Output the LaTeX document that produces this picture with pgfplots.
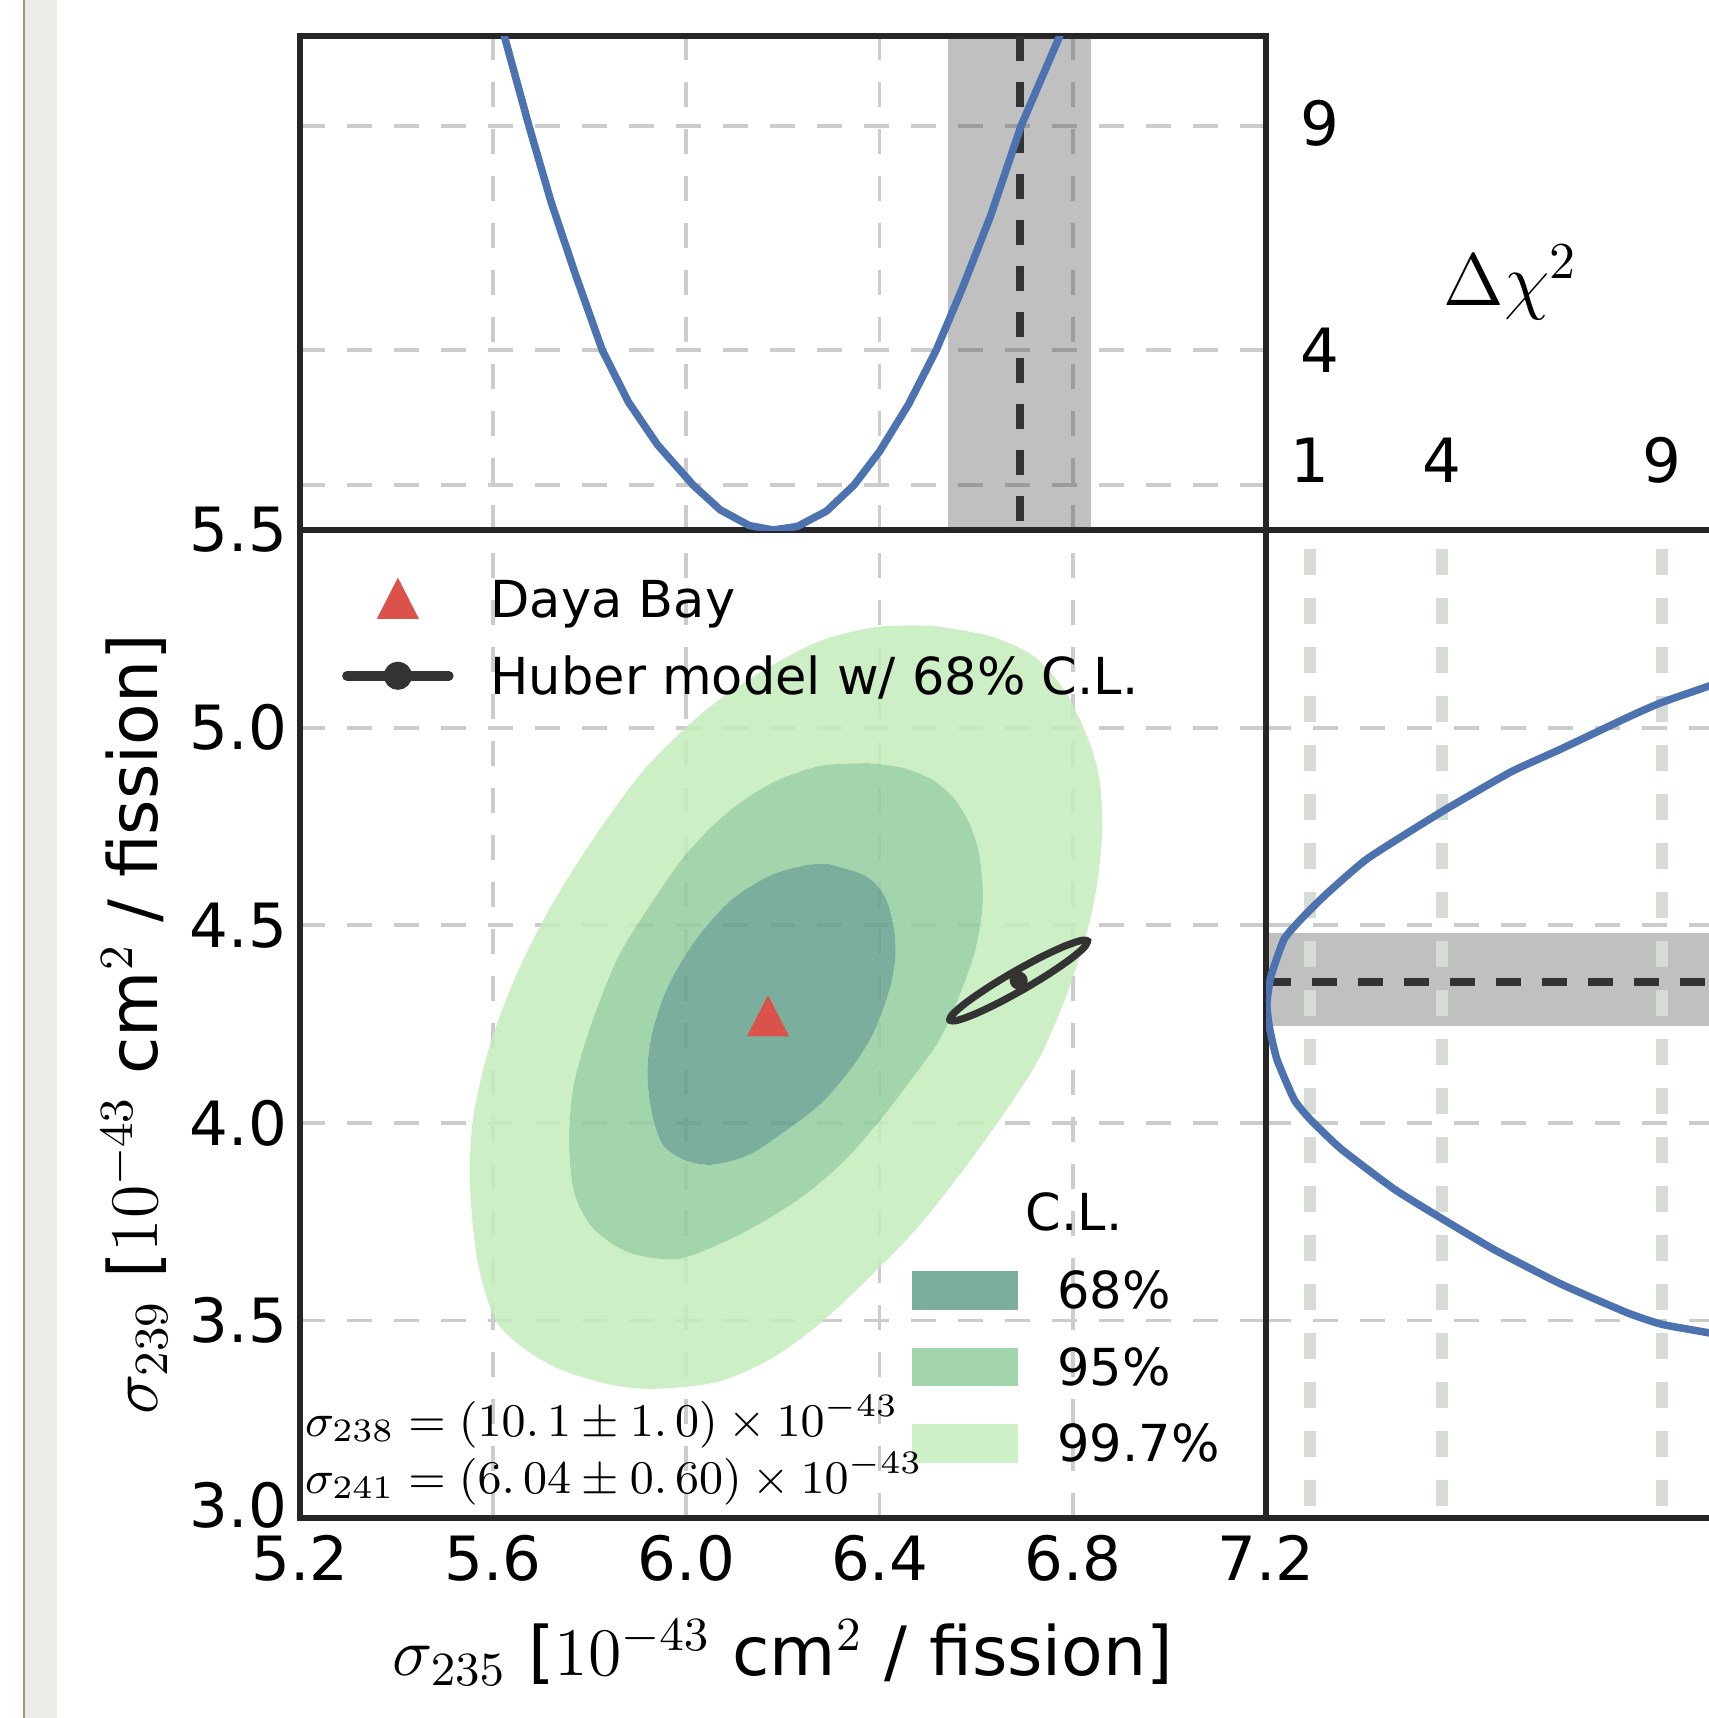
\RequirePackage{fix-cm}
\documentclass[border=0pt]{standalone}
\usepackage[no-math]{fontspec}
\setmainfont{DejaVu Sans}
\usepackage{pgfplots}
\pgfplotsset{compat=1.18}
\definecolor{cbl}{RGB}{76,114,176}
\definecolor{dk}{RGB}{51,51,51}
\definecolor{axc}{RGB}{38,38,38}
\definecolor{gr}{RGB}{204,204,204}
\definecolor{vl}{RGB}{214,220,213}
\definecolor{bandc}{RGB}{48,48,48}
\definecolor{ca}{RGB}{100,160,139}
\definecolor{cb}{RGB}{147,206,159}
\definecolor{cc}{RGB}{197,237,188}
\definecolor{la}{RGB}{123,174,156}
\definecolor{lb}{RGB}{163,213,173}
\definecolor{lc}{RGB}{206,240,198}
\definecolor{dbred}{RGB}{218,82,73}
\definecolor{stripe}{RGB}{236,235,231}
\definecolor{tanline}{RGB}{168,148,110}

\begin{document}
\begin{tikzpicture}
\useasboundingbox (0pt,0pt) rectangle (341.8pt,-343.6pt);
\clip (0pt,0pt) rectangle (341.8pt,-343.6pt);
\fill[white] (0pt,0pt) rectangle (341.8pt,-343.6pt);
\fill[stripe] (4.8pt,0pt) rectangle (11.4pt,-343.6pt);
\draw[tanline, line width=0.45pt] (4.85pt,0pt) -- (4.85pt,-343.6pt);

\pgfplotsset{
  every axis/.append style={
    scale only axis,
    axis line style={line width=1.14pt, axc},
    major tick length=0pt,
    grid style={gr, line width=0.76pt, dash pattern=on 5pt off 4.4pt},
    tick label style={font=\fontsize{12.2}{14}\selectfont},
    unbounded coords=jump,
  }
}

% ---------------- main panel ----------------
\begin{axis}[
  at={(60pt,-303.6pt)}, anchor=south west,
  width=193.2pt, height=197.6pt,
  xmin=5.2, xmax=7.2, ymin=3, ymax=5.5,
  xtick={5.2,5.6,6.0,6.4,6.8,7.2},
  xticklabels={5.2,5.6,6.0,6.4,6.8,7.2},
  ytick={3.0,3.5,4.0,4.5,5.0,5.5},
  yticklabels={\raisebox{5.2pt}{3.0},3.5,4.0,4.5,5.0,5.5},
  yticklabel style={xshift=0.9pt},
  grid=major,
  xlabel={$\sigma_{235}$ [$10^{-43}$ cm$^2$ / fission]},
  ylabel={$\sigma_{239}$ [$10^{-43}$ cm$^2$ / fission]},
  label style={font=\fontsize{13.6}{16}\selectfont},
  xlabel style={at={(axis description cs:0.5,-0.1589)}, anchor=base},
  ylabel style={at={(axis description cs:-0.148,0.5)}, anchor=base},
  legend style={at={(axis description cs:0.0426,0.8917)}, anchor=west,
    draw=none, fill=none, inner sep=0pt,
    font=\fontsize{10.2}{12}\selectfont,
    nodes={inner sep=0pt, text height=7.4pt, text depth=0pt},
    row sep=7.86pt, column sep=7.4pt},
  legend cell align=left,
  legend image code/.code={\draw[mark repeat=2,mark phase=2,#1] plot coordinates {(0pt,0pt) (10.15pt,0pt) (20.3pt,0pt)};},
]
\addlegendimage{only marks, mark=triangle*, mark size=4.5pt, dbred, mark options={yscale=1.13, yshift=-1.1pt}}
\addlegendentry{Daya Bay}
\addlegendimage{dk, line width=2pt, line cap=round, mark=*, mark size=1.8pt, mark options={solid, dk}}
\addlegendentry{Huber model w/ 68\% C.L.}

% 99.7% ring
\addplot[fill=cc, draw=none, fill opacity=0.85, even odd rule, smooth, forget plot] coordinates {
(6.507,5.258) (6.628,5.232) (6.720,5.180) (6.785,5.090) (6.831,4.974) (6.855,4.871)
(6.861,4.742) (6.850,4.601) (6.827,4.472) (6.785,4.317) (6.730,4.162) (6.656,4.021)
(6.572,3.879) (6.480,3.737) (6.378,3.608) (6.276,3.492) (6.174,3.402) (6.063,3.344)
(5.933,3.327) (5.841,3.338) (5.739,3.376) (5.665,3.428) (5.605,3.501) (5.568,3.647)
(5.552,3.840) (5.558,4.008) (5.591,4.188) (5.646,4.369) (5.720,4.549) (5.813,4.729)
(5.915,4.897) (6.035,5.039) (6.156,5.142) (6.276,5.219) (6.396,5.255) (6.507,5.258)
(nan,nan)
(6.378,4.910) (6.450,4.898) (6.512,4.866) (6.556,4.818) (6.588,4.752) (6.607,4.675)
(6.614,4.562) (6.600,4.446) (6.572,4.343) (6.526,4.214) (6.466,4.110) (6.400,4.005)
(6.328,3.905) (6.250,3.822) (6.165,3.754) (6.081,3.700) (5.980,3.655) (5.878,3.673)
(5.804,3.737) (5.767,3.827) (5.757,3.956) (5.767,4.098) (5.804,4.253) (5.859,4.420)
(5.924,4.549) (5.998,4.678) (6.081,4.781) (6.174,4.858) (6.276,4.903) (6.378,4.910)
};
% 95% ring
\addplot[fill=cb, draw=none, fill opacity=0.85, even odd rule, smooth, forget plot] coordinates {
(6.378,4.910) (6.450,4.898) (6.512,4.866) (6.556,4.818) (6.588,4.752) (6.607,4.675)
(6.614,4.562) (6.600,4.446) (6.572,4.343) (6.526,4.214) (6.466,4.110) (6.400,4.005)
(6.328,3.905) (6.250,3.822) (6.165,3.754) (6.081,3.700) (5.980,3.655) (5.878,3.673)
(5.804,3.737) (5.767,3.827) (5.757,3.956) (5.767,4.098) (5.804,4.253) (5.859,4.420)
(5.924,4.549) (5.998,4.678) (6.081,4.781) (6.174,4.858) (6.276,4.903) (6.378,4.910)
(nan,nan)
(6.294,4.655) (6.369,4.626) (6.410,4.575) (6.429,4.497) (6.433,4.420) (6.419,4.330)
(6.387,4.227) (6.341,4.137) (6.276,4.046) (6.193,3.969) (6.128,3.918) (6.054,3.894)
(5.998,3.905) (5.952,3.943) (5.929,4.021) (5.919,4.124) (5.929,4.227) (5.961,4.343)
(6.017,4.459) (6.091,4.562) (6.174,4.626) (6.248,4.652) (6.294,4.655)
};
% 68%
\addplot[fill=ca, draw=none, fill opacity=0.85, smooth, forget plot] coordinates {
(6.294,4.655) (6.369,4.626) (6.410,4.575) (6.429,4.497) (6.433,4.420) (6.419,4.330)
(6.387,4.227) (6.341,4.137) (6.276,4.046) (6.193,3.969) (6.128,3.918) (6.054,3.894)
(5.998,3.905) (5.952,3.943) (5.929,4.021) (5.919,4.124) (5.929,4.227) (5.961,4.343)
(6.017,4.459) (6.091,4.562) (6.174,4.626) (6.248,4.652) (6.294,4.655)
};
% Huber 68% ellipse
\addplot[dk, line width=1.45pt, smooth, forget plot] coordinates {
(6.8305,4.4600) (6.8236,4.4439) (6.7959,4.4151) (6.7519,4.3779) (6.6981,4.3379)
(6.6427,4.3013) (6.5943,4.2737) (6.5602,4.2591) (6.5455,4.2600) (6.5524,4.2761)
(6.5801,4.3049) (6.6241,4.3421) (6.6779,4.3821) (6.7333,4.4187) (6.7817,4.4463)
(6.8158,4.4609) (6.8305,4.4600) (6.8236,4.4439)
};
\addplot[only marks, mark=*, mark size=1.6pt, dk, forget plot] coordinates {(6.688,4.360)};
\addplot[only marks, mark=triangle*, mark size=4.5pt, dbred, mark options={yscale=1.13, yshift=-1.1pt}, forget plot] coordinates {(6.169,4.269)};
\end{axis}

% ---------------- C.L. legend (overlay) ----------------
\begin{axis}[
  at={(60pt,-303.6pt)}, anchor=south west,
  width=193.2pt, height=197.6pt,
  xmin=0, xmax=1, ymin=0, ymax=1, hide axis,
  legend style={at={(axis description cs:0.633,0.153)}, anchor=west,
    draw=none, fill=none, inner sep=0pt,
    font=\fontsize{10.2}{12}\selectfont,
    nodes={inner sep=0pt, text height=7.4pt, text depth=0pt},
    row sep=7.6pt, column sep=7.9pt},
  legend cell align=left,
  legend image code/.code={\fill[#1] (0pt,-3.85pt) rectangle (21.1pt,3.85pt);},
]
\addlegendimage{fill=la, draw=none}\addlegendentry{68\%}
\addlegendimage{fill=lb, draw=none}\addlegendentry{95\%}
\addlegendimage{fill=lc, draw=none}\addlegendentry{99.7\%}
\end{axis}

% ---------------- top panel ----------------
\begin{axis}[
  at={(60pt,-106pt)}, anchor=south west,
  width=193.2pt, height=98.8pt,
  xmin=5.2, xmax=7.2, ymin=0, ymax=11,
  xtick={5.6,6.0,6.4,6.8}, xticklabels={{},{},{},{}},
  ytick={1,4,9}, yticklabels={{},4,\raisebox{1pt}{9}},
  yticklabel pos=right, yticklabel style={xshift=3.3pt},
  grid=major,
]
\addplot[fill=bandc, fill opacity=0.3, draw=none] coordinates {(6.541,0) (6.838,0) (6.838,11) (6.541,11)};
\addplot[dk, line width=1.6pt, dash pattern=on 5pt off 4.2pt] coordinates {(6.691,11) (6.691,0)};
\addplot[cbl, line width=1.5pt] coordinates {
(5.612,11.4) (5.623,11.0) (5.674,9.0) (5.72,7.3) (5.77,5.7) (5.826,4.0) (5.88,2.85)
(5.94,1.9) (6.014,1.0) (6.07,0.45) (6.13,0.10) (6.18,0.0) (6.23,0.08) (6.29,0.42)
(6.347,1.0) (6.40,1.75) (6.46,2.8) (6.517,4.0) (6.57,5.35) (6.63,7.0) (6.693,9.0)
(6.773,11.0) (6.785,11.4)
};
\end{axis}

% ---------------- right panel ----------------
\begin{axis}[
  at={(253.2pt,-303.6pt)}, anchor=south west,
  width=96.8pt, height=197.6pt,
  xmin=0, xmax=11, ymin=3, ymax=5.5,
  xtick={1,4,9}, xticklabels={1,4,9}, xticklabel pos=upper,
  xticklabel style={yshift=5.9pt},
  ytick={3.5,4.0,4.5,5.0}, yticklabels={{},{},{},{}},
  ymajorgrids,
]
\addplot[fill=bandc, fill opacity=0.3, draw=none] coordinates {(0,4.244) (11,4.244) (11,4.480) (0,4.480)};
\addplot[dk, line width=1.6pt, dash pattern=on 5pt off 4.2pt] coordinates {(0,4.357) (11,4.357)};
\addplot[vl, line width=2.3pt, dash pattern=on 5.2pt off 4.6pt, dash phase=6pt] coordinates {(1,5.5) (1,3)};
\addplot[vl, line width=2.3pt, dash pattern=on 5.2pt off 4.6pt, dash phase=6pt] coordinates {(4,5.5) (4,3)};
\addplot[vl, line width=2.3pt, dash pattern=on 5.2pt off 4.6pt, dash phase=6pt] coordinates {(9,5.5) (9,3)};
\addplot[cbl, line width=1.5pt, smooth, tension=0.3] coordinates {
(11.0,5.140) (10.09,5.106) (8.977,5.063) (8.22,5.026) (6.705,4.946) (5.568,4.888)
(3.977,4.786) (2.311,4.669) (1.402,4.582) (0.871,4.524) (0.417,4.466) (0.11,4.370)
(0.02,4.300) (0.08,4.240) (0.25,4.160) (0.644,4.058) (1.02,4.007) (1.705,3.934)
(2.917,3.832) (3.977,3.759) (5.189,3.679) (6.705,3.592) (8.22,3.519) (9.0,3.490)
(10.09,3.468) (11.0,3.445)
};
\end{axis}

% ---------------- free text ----------------
\node[anchor=base, inner sep=0pt, font=\fontsize{14.8}{17}\selectfont] at (302.2pt,-61pt) {$\Delta\chi^2$};
\node[anchor=base west, inner sep=0pt, font=\fontsize{9.35}{12}\selectfont] at (60.8pt,-287.3pt) {$\sigma_{238} = (10.\,1 \pm 1.\,0) \times 10^{-43}$};
\node[anchor=base west, inner sep=0pt, font=\fontsize{9.35}{12}\selectfont] at (60.8pt,-298.7pt) {$\sigma_{241} = (6.\,04 \pm 0.\,60) \times 10^{-43}$};
\node[anchor=base, inner sep=0pt, font=\fontsize{10.2}{12}\selectfont] at (214.8pt,-246pt) {C.L.};
\end{tikzpicture}
\end{document}
